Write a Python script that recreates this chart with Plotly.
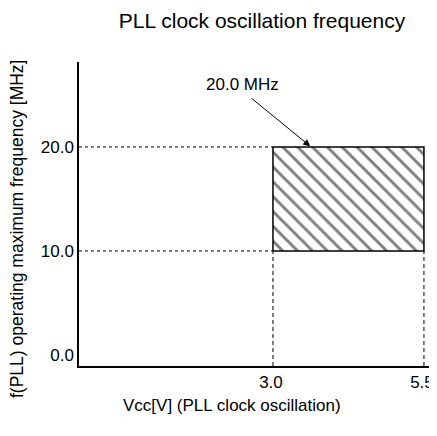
import plotly.graph_objects as go

# operating region
vcc_range = [3.0, 5.5]
freq_range = [10.0, 20.0]
x_ticks = [3.0, 5.5]
y_ticks = [0.0, 10.0, 20.0]
label_text = "20.0 MHz"

X_RANGE = [-0.212, 5.65]
Y_RANGE = [-1.06, 28.17]
FONT = "Liberation Sans, Arial, sans-serif"
dash = dict(color="black", width=1, dash="3px,3px")

# page body adds an 8px offset, so the figure is laid out 8px smaller
W, H = 429, 428
L, R, T, B = 71, 4, 54, 70
PW, PH = W - L - R, H - T - B

fig = go.Figure()

# dashed guide lines
for f in freq_range:
    fig.add_trace(go.Scatter(x=[X_RANGE[0], vcc_range[0]], y=[f, f], mode="lines",
                             line=dash, hoverinfo="skip"))
for v in vcc_range:
    fig.add_trace(go.Scatter(x=[v, v], y=[Y_RANGE[0], freq_range[0]], mode="lines",
                             line=dict(color="black", width=1, dash="4px,3px"), hoverinfo="skip"))

# hatched operating area
x0, x1 = vcc_range
y0, y1 = freq_range
fig.add_trace(go.Scatter(
    x=[x0, x1, x1, x0, x0], y=[y0, y0, y1, y1, y0],
    mode="lines", fill="toself", fillcolor="white",
    fillpattern=dict(shape="\\", size=10.5, solidity=0.28, fgcolor="black", bgcolor="white"),
    line=dict(color="black", width=1.5), hoverinfo="skip",
))

# label + arrow
fig.add_annotation(x=2.49, y=25.96, text=label_text, showarrow=False,
                   font=dict(size=17, color="black"))
fig.add_annotation(
    x=3.63, y=y1, ax=2.62, ay=24.8, axref="x", ayref="y", text="",
    showarrow=True, arrowhead=2, arrowsize=1.4, arrowwidth=1,
    arrowcolor="black", standoff=1,
)

# axis titles
fig.add_annotation(x=(224 - L) / PW, y=-(397 - (H - B)) / PH, xref="paper", yref="paper",
                   text="Vcc[V] (PLL clock oscillation)", showarrow=False,
                   font=dict(size=17), yanchor="middle")
fig.add_annotation(x=-(L - 9) / PW, y=((H - B) - 221) / PH, xref="paper", yref="paper",
                   text="f(PLL) operating maximum frequency [MHz]", showarrow=False,
                   textangle=-90, font=dict(size=17.5), xanchor="center", yanchor="middle")

fig.update_layout(
    width=W, height=H,
    margin=dict(l=L, r=R, t=T, b=B),
    paper_bgcolor="white", plot_bgcolor="white",
    showlegend=False,
    font=dict(family=FONT, color="black", size=17),
    title=dict(text="PLL clock oscillation frequency", x=254 / W, xanchor="center",
               y=1 - 13 / H, yanchor="middle", font=dict(size=21)),
)
fig.update_xaxes(
    range=X_RANGE, showgrid=False, zeroline=False, showline=True,
    linecolor="black", linewidth=1.5, tickvals=x_ticks, ticktext=[f"{v:.1f}" for v in x_ticks],
    ticks="", automargin=False, ticklabelshift=-2,
)
fig.update_yaxes(
    range=Y_RANGE, showgrid=False, zeroline=False, showline=True,
    linecolor="black", linewidth=1.5, tickvals=y_ticks, ticktext=[f"{v:.1f}" for v in y_ticks],
    ticks="", automargin=False,
)

fig.write_html("out.html")
